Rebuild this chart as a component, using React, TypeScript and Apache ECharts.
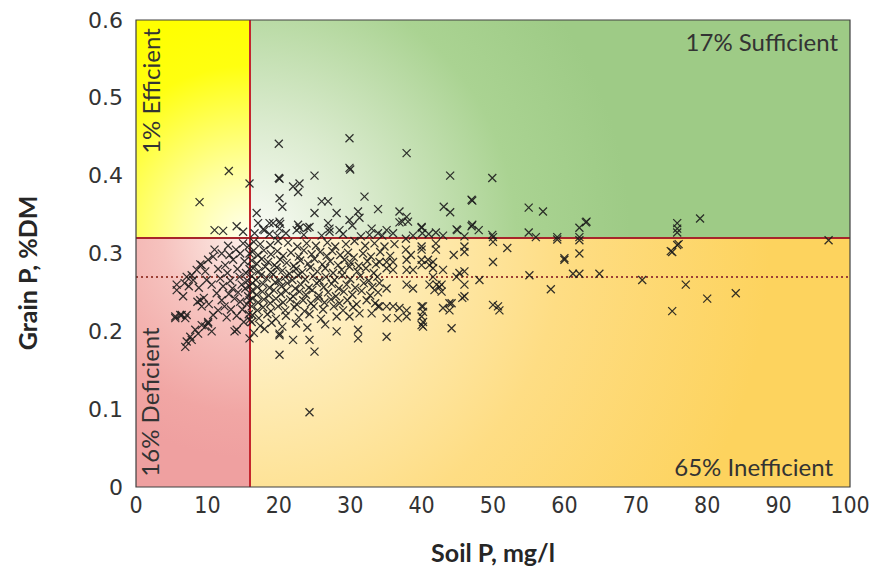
import { useEffect, useRef } from "react";
import * as echarts from "echarts";

// ---------- data ----------
const soilThreshold = 16;
const grainThreshold = 0.32;
const grainMean = 0.27;
const zoneLabels = ["1% Efficient", "17% Sufficient", "16% Deficient", "65% Inefficient"];
const xAxisTitle = "Soil P, mg/l";
const yAxisTitle = "Grain P, %DM";

const efficientPts: [number, number][] = [
  [8.9, 0.366], [13.0, 0.406], [15.9, 0.39], [11.0, 0.33], [12.2, 0.329], [14.1, 0.335], [15.0, 0.328],
];

const sufficientPts: [number, number][] = [
  [16.9, 0.352], [17.1, 0.339], [18.0, 0.33], [17.8, 0.331], [18.7, 0.339], [19.2, 0.339], [20.0, 0.441],
  [20.0, 0.397], [20.1, 0.396], [20.1, 0.371], [20.5, 0.36], [20.1, 0.341], [20.2, 0.338], [20.1, 0.332],
  [22.0, 0.386], [22.9, 0.39], [22.7, 0.379], [22.5, 0.33], [22.9, 0.333], [22.7, 0.337], [24.3, 0.334],
  [24.0, 0.333], [25.0, 0.4], [25.0, 0.352], [26.0, 0.367], [26.9, 0.367], [26.9, 0.339], [27.1, 0.332],
  [27.1, 0.328], [28.1, 0.352], [28.5, 0.33], [29.9, 0.448], [29.9, 0.41], [30.0, 0.408], [29.9, 0.343],
  [30.3, 0.336], [31.1, 0.354], [31.3, 0.346], [32.0, 0.373], [32.7, 0.324], [33.0, 0.332], [33.9, 0.357],
  [33.9, 0.326], [35.1, 0.33], [36.9, 0.354], [37.9, 0.347], [36.9, 0.34], [37.3, 0.341], [38.1, 0.341],
  [37.9, 0.429], [40.0, 0.334], [40.0, 0.333], [40.1, 0.326], [42.0, 0.327], [44.0, 0.4], [44.0, 0.353],
  [43.1, 0.36], [45.0, 0.33], [44.9, 0.331], [47.0, 0.369], [47.1, 0.368], [47.0, 0.335], [47.1, 0.337],
  [48.0, 0.33], [49.9, 0.397], [49.9, 0.324], [50.0, 0.321], [55.0, 0.359], [57.0, 0.354], [55.0, 0.327],
  [56.0, 0.321], [62.1, 0.333], [63.0, 0.34], [63.1, 0.341], [75.8, 0.339], [75.8, 0.332], [75.8, 0.327],
  [79.0, 0.345], [59.0, 0.321], [62.1, 0.321], [18.7, 0.325], [21.0, 0.326], [23.5, 0.324], [26.0, 0.323],
  [29.0, 0.325], [31.5, 0.322], [34.5, 0.323], [36.0, 0.326], [38.8, 0.323], [41.0, 0.325], [43.0, 0.323],
  [46.0, 0.322], [16.6, 0.326], [19.8, 0.323],
];

const deficientPts: [number, number][] = [
  [12.0, 0.3], [13.1, 0.298], [10.1, 0.292], [9.2, 0.285], [8.5, 0.279], [7.8, 0.272], [7.1, 0.27],
  [5.7, 0.26], [5.7, 0.253], [6.6, 0.245], [5.5, 0.219], [6.4, 0.221], [7.1, 0.221], [7.6, 0.193],
  [7.1, 0.187], [6.9, 0.18], [8.3, 0.202], [9.2, 0.208], [10.1, 0.21], [10.8, 0.221], [10.6, 0.2],
  [11.5, 0.227], [9.0, 0.286], [9.7, 0.277], [9.9, 0.266], [9.0, 0.24], [9.2, 0.232], [10.6, 0.26],
  [11.3, 0.249], [12.0, 0.24], [12.4, 0.232], [14.1, 0.202], [13.8, 0.2], [15.0, 0.313], [15.9, 0.191],
  [5.5, 0.217], [6.2, 0.221], [6.9, 0.217], [8.7, 0.197], [9.7, 0.206], [10.1, 0.212], [7.8, 0.189],
  [12.5, 0.285], [12.8, 0.275], [13.2, 0.265], [13.5, 0.255], [13.0, 0.248], [13.8, 0.242], [14.2, 0.28],
  [14.5, 0.27], [14.8, 0.26], [14.3, 0.25], [14.6, 0.238], [14.9, 0.228], [15.2, 0.29], [15.4, 0.275],
  [15.6, 0.265], [15.3, 0.255], [15.7, 0.245], [15.5, 0.235], [15.8, 0.222], [15.1, 0.212], [13.6, 0.292],
  [14.0, 0.305], [11.8, 0.268], [12.2, 0.258], [11.5, 0.28], [10.8, 0.296], [13.3, 0.228], [12.7, 0.218],
  [14.1, 0.22], [15.9, 0.3], [15.8, 0.31], [15.9, 0.28], [15.9, 0.258], [15.9, 0.24], [15.95, 0.215],
  [8.0, 0.266], [8.8, 0.256], [7.4, 0.258], [6.8, 0.262], [11.0, 0.305], [12.9, 0.31], [14.6, 0.3],
  [8.6, 0.238], [10.2, 0.235], [9.5, 0.243],
];

const inefficientPts: [number, number][] = [
  // ~0.31
  [16.5, 0.315], [17.4, 0.312], [18.8, 0.311], [19.9, 0.316], [21.3, 0.314], [22.6, 0.309], [23.9, 0.313],
  [25.2, 0.31], [26.8, 0.314], [27.9, 0.309], [29.4, 0.312], [30.6, 0.316], [32.1, 0.31], [33.4, 0.313],
  [34.8, 0.309], [36.2, 0.312], [37.8, 0.305], [40.0, 0.309], [40.0, 0.305], [42.0, 0.313], [42.0, 0.305],
  [46.0, 0.309], [46.0, 0.302], [52.0, 0.307], [37.8, 0.319], [50.0, 0.315],
  // ~0.30
  [16.3, 0.302], [17.1, 0.298], [17.9, 0.304], [18.9, 0.299], [19.8, 0.303], [20.6, 0.297], [21.7, 0.301],
  [22.8, 0.296], [23.5, 0.304], [24.6, 0.299], [25.8, 0.302], [26.7, 0.297], [27.5, 0.303], [28.6, 0.298],
  [29.7, 0.301], [30.5, 0.295], [31.8, 0.3], [32.9, 0.296], [34.2, 0.302], [35.6, 0.297], [38.5, 0.298],
  [44.5, 0.298],
  // ~0.29
  [16.2, 0.291], [16.9, 0.287], [17.6, 0.293], [18.5, 0.289], [19.4, 0.285], [20.2, 0.292], [21.1, 0.288],
  [22.1, 0.284], [23.0, 0.291], [24.1, 0.287], [25.0, 0.293], [26.1, 0.286], [27.2, 0.29], [28.3, 0.285],
  [29.2, 0.292], [30.1, 0.288], [31.2, 0.284], [32.4, 0.29], [33.6, 0.286], [34.1, 0.289], [35.1, 0.289],
  [36.0, 0.289], [37.9, 0.292], [40.0, 0.292], [40.9, 0.292], [41.6, 0.289], [50.0, 0.289], [60.0, 0.292],
  // ~0.28
  [16.4, 0.281], [17.2, 0.277], [18.1, 0.283], [18.9, 0.276], [19.7, 0.282], [20.5, 0.278], [21.5, 0.274],
  [22.4, 0.28], [23.3, 0.276], [24.4, 0.282], [25.4, 0.277], [26.5, 0.281], [27.6, 0.275], [28.8, 0.279],
  [29.9, 0.283], [31.0, 0.277], [32.2, 0.281], [33.3, 0.275], [35.1, 0.281], [36.0, 0.279], [37.9, 0.279],
  [38.8, 0.279], [41.6, 0.281], [43.0, 0.279], [41.1, 0.285], [40.0, 0.285],
  // ~0.27
  [16.2, 0.271], [16.8, 0.266], [17.5, 0.272], [18.3, 0.268], [19.2, 0.273], [20.0, 0.265], [20.9, 0.27],
  [21.9, 0.266], [22.7, 0.272], [23.7, 0.267], [24.8, 0.271], [25.7, 0.265], [26.6, 0.27], [27.8, 0.266],
  [28.9, 0.272], [30.0, 0.267], [31.4, 0.271], [32.6, 0.265], [33.8, 0.27], [41.6, 0.27], [44.9, 0.27],
  [46.0, 0.277], [48.1, 0.266], [45.3, 0.275], [55.1, 0.272], [61.2, 0.274], [62.1, 0.274], [64.9, 0.274],
  [70.9, 0.266],
  // ~0.26
  [16.3, 0.262], [17.0, 0.257], [17.8, 0.261], [18.7, 0.256], [19.5, 0.263], [20.4, 0.258], [21.2, 0.262],
  [22.3, 0.255], [23.1, 0.26], [24.2, 0.256], [25.3, 0.262], [26.3, 0.257], [27.4, 0.261], [28.4, 0.255],
  [29.5, 0.26], [30.7, 0.256], [31.9, 0.262], [33.1, 0.257], [34.1, 0.262], [35.1, 0.255], [37.9, 0.26],
  [38.8, 0.255], [41.1, 0.26], [42.1, 0.26], [42.8, 0.26], [46.0, 0.26], [42.5, 0.257], [58.1, 0.254],
  [77.0, 0.26], [41.8, 0.253], [42.8, 0.251],
  // ~0.25
  [16.2, 0.252], [16.9, 0.247], [17.7, 0.251], [18.6, 0.246], [19.3, 0.253], [20.3, 0.248], [21.0, 0.252],
  [22.0, 0.245], [22.9, 0.251], [23.8, 0.247], [24.7, 0.253], [25.6, 0.246], [26.9, 0.25], [28.0, 0.245],
  [29.1, 0.251], [30.3, 0.247], [31.6, 0.252], [32.8, 0.246], [33.9, 0.25], [46.0, 0.245], [45.7, 0.243],
  [80.0, 0.242], [84.0, 0.249],
  // ~0.24
  [16.3, 0.242], [17.1, 0.237], [17.9, 0.241], [18.8, 0.236], [19.6, 0.242], [20.6, 0.237], [21.6, 0.241],
  [22.5, 0.235], [23.4, 0.24], [24.5, 0.236], [25.5, 0.242], [26.4, 0.237], [27.3, 0.241], [28.5, 0.236],
  [29.6, 0.24], [30.9, 0.235], [32.3, 0.24], [33.5, 0.236],
  // ~0.23
  [16.2, 0.232], [17.0, 0.227], [17.8, 0.231], [18.9, 0.226], [19.9, 0.232], [20.9, 0.227], [22.2, 0.231],
  [23.6, 0.226], [24.9, 0.232], [26.2, 0.228], [27.7, 0.232], [29.0, 0.227], [30.4, 0.231], [33.9, 0.232],
  [34.1, 0.232], [35.1, 0.232], [36.0, 0.232], [36.9, 0.23], [37.9, 0.227], [40.0, 0.232], [40.2, 0.225],
  [43.0, 0.23], [43.9, 0.236], [43.9, 0.227], [44.2, 0.236], [50.0, 0.234], [50.9, 0.227], [50.7, 0.232],
  [40.2, 0.232], [75.1, 0.226],
  // ~0.22
  [16.3, 0.221], [17.2, 0.217], [18.4, 0.222], [19.6, 0.216], [21.0, 0.22], [22.8, 0.218], [24.3, 0.222],
  [25.9, 0.216], [28.1, 0.219], [29.9, 0.219], [31.3, 0.223], [33.0, 0.223], [35.1, 0.217], [36.7, 0.217],
  [37.9, 0.219], [40.0, 0.219], [40.2, 0.212], [40.0, 0.208], [40.2, 0.206], [44.2, 0.204],
  // ~0.21 and below
  [16.2, 0.212], [17.4, 0.207], [19.0, 0.211], [20.5, 0.206], [22.4, 0.21], [24.0, 0.205], [26.5, 0.209],
  [20.1, 0.197], [20.1, 0.195], [22.0, 0.189], [24.3, 0.189], [25.0, 0.174], [20.1, 0.17], [28.1, 0.2],
  [31.1, 0.202], [31.1, 0.191], [35.1, 0.193], [24.3, 0.096], [16.5, 0.198], [18.0, 0.203],
  // higher soil P
  [62.1, 0.3], [75.1, 0.302], [75.8, 0.311], [74.9, 0.303], [76.0, 0.312], [97.0, 0.317], [62.1, 0.317],
  [59.0, 0.318], [60.0, 0.294],
];

// ---------- layout ----------
const W = 887;
const H = 578;
const GL = 136;
const GR = 37;
const GT = 20;
const GB = 91;
const X_MAX = 100;
const Y_MAX = 0.6;
const plotW = W - GL - GR;
const plotH = H - GT - GB;
const toPx = (x: number) => GL + (x / X_MAX) * plotW;
const toPy = (y: number) => GT + (1 - y / Y_MAX) * plotH;

export default function App() {
  const ref = useRef<HTMLDivElement>(null);

  useEffect(() => {
    if (!ref.current) return;
    const chart = echarts.init(ref.current, undefined, { renderer: "svg" });
    const cx = toPx(soilThreshold);
    const cy = toPy(grainThreshold);
    const rg = (r: number, stops: [number, string][]) =>
      new echarts.graphic.RadialGradient(cx, cy, r, stops.map(([offset, color]) => ({ offset, color })), true);

    const allPts = [...efficientPts, ...sufficientPts, ...deficientPts, ...inefficientPts];

    chart.setOption({
      animation: false,
      backgroundColor: "#ffffff",
      grid: { left: GL, right: GR, top: GT, bottom: GB, show: false },
      xAxis: {
        type: "value",
        min: 0,
        max: X_MAX,
        interval: 10,
        axisLine: { show: false },
        axisTick: { show: false },
        splitLine: { show: false },
        axisLabel: {
          margin: 6,
          color: "#333",
          fontSize: 23,
          fontFamily: "'Liberation Sans Narrow', 'DejaVu Sans Condensed', 'Roboto', sans-serif",
        },
      },
      yAxis: {
        type: "value",
        min: 0,
        max: Y_MAX,
        interval: 0.1,
        axisLine: { show: false },
        axisTick: { show: false },
        splitLine: { show: false },
        axisLabel: {
          margin: 13,
          color: "#333",
          fontSize: 22,
          fontFamily: "'DejaVu Sans', sans-serif",
        },
      },
      series: [
        {
          type: "scatter",
          data: allPts,
          symbol: "path://M0 0L10 10M10 0L0 10",
          symbolSize: 8,
          silent: true,
          z: 3,
          itemStyle: {
            color: "rgba(0,0,0,0)",
            borderColor: "#1c1c1c",
            borderWidth: 1.25,
            opacity: 0.9,
          },
          markArea: {
            silent: true,
            z: 1,
            data: [
              [
                {
                  xAxis: 0,
                  yAxis: grainThreshold,
                  itemStyle: {
                    color: rg(230, [
                      [0, "#fffff2"],
                      [0.3, "#ffffa0"],
                      [0.75, "#ffff10"],
                      [1, "#ffff00"],
                    ]),
                  },
                },
                { xAxis: soilThreshold, yAxis: Y_MAX },
              ],
              [
                {
                  xAxis: soilThreshold,
                  yAxis: grainThreshold,
                  itemStyle: {
                    color: rg(380, [
                      [0, "#fbfcf8"],
                      [0.3, "#dbebcf"],
                      [0.7, "#aad392"],
                      [1, "#9ecb86"],
                    ]),
                  },
                },
                { xAxis: X_MAX, yAxis: Y_MAX },
              ],
              [
                {
                  xAxis: 0,
                  yAxis: 0,
                  itemStyle: {
                    color: rg(220, [
                      [0, "#fdf0ea"],
                      [0.4, "#f6c2be"],
                      [0.8, "#f1a6a4"],
                      [1, "#efa0a0"],
                    ]),
                  },
                },
                { xAxis: soilThreshold, yAxis: grainThreshold },
              ],
              [
                {
                  xAxis: soilThreshold,
                  yAxis: 0,
                  itemStyle: {
                    color: rg(520, [
                      [0, "#fff9e8"],
                      [0.3, "#feebb4"],
                      [0.6, "#fedd84"],
                      [1, "#fdd35e"],
                    ]),
                  },
                },
                { xAxis: X_MAX, yAxis: grainThreshold },
              ],
            ],
          },
          markLine: {
            silent: true,
            symbol: "none",
            z: 2,
            label: { show: false },
            data: [
              { yAxis: grainMean, lineStyle: { color: "#9c3f36", width: 1.8, type: [2, 3] } },
              { xAxis: soilThreshold, lineStyle: { color: "#c4262e", width: 2, type: "solid" } },
              { yAxis: grainThreshold, lineStyle: { color: "#a8252b", width: 2, type: "solid" } },
            ],
          },
        },
      ],
      graphic: [
        {
          type: "rect",
          z: 50,
          silent: true,
          shape: { x: GL, y: GT, width: plotW, height: plotH },
          style: { fill: "none", stroke: "#404040", lineWidth: 1.2 },
        },
        {
          type: "text",
          z: 60,
          x: 150,
          y: 91,
          rotation: Math.PI / 2,
          style: {
            text: zoneLabels[0],
            fontSize: 24,
            fontFamily: "Lato, sans-serif",
            fill: "#333",
            align: "center",
            verticalAlign: "middle",
          },
        },
        {
          type: "text",
          z: 60,
          x: 838,
          y: 41,
          style: {
            text: zoneLabels[1],
            fontSize: 24,
            fontFamily: "Lato, sans-serif",
            fill: "#333",
            align: "right",
            verticalAlign: "middle",
          },
        },
        {
          type: "text",
          z: 60,
          x: 149,
          y: 402,
          rotation: Math.PI / 2,
          style: {
            text: zoneLabels[2],
            fontSize: 24,
            fontFamily: "Lato, sans-serif",
            fill: "#333",
            align: "center",
            verticalAlign: "middle",
          },
        },
        {
          type: "text",
          z: 60,
          x: 833,
          y: 466,
          style: {
            text: zoneLabels[3],
            fontSize: 24,
            fontFamily: "Lato, sans-serif",
            fill: "#333",
            align: "right",
            verticalAlign: "middle",
          },
        },
        {
          type: "text",
          z: 60,
          x: 493,
          y: 552,
          style: {
            text: xAxisTitle,
            fontSize: 25,
            fontWeight: "bold",
            fontFamily: "Lato, sans-serif",
            fill: "#262626",
            align: "center",
            verticalAlign: "middle",
          },
        },
        {
          type: "text",
          z: 60,
          x: 27,
          y: 273,
          rotation: Math.PI / 2,
          style: {
            text: yAxisTitle,
            fontSize: 25,
            fontWeight: "bold",
            fontFamily: "Lato, sans-serif",
            fill: "#262626",
            align: "center",
            verticalAlign: "middle",
          },
        },
      ],
    });
    return () => chart.dispose();
  }, []);

  return (
    <div
      ref={ref}
      style={{ position: "absolute", left: 0, top: 0, width: W, height: H }}
    />
  );
}
